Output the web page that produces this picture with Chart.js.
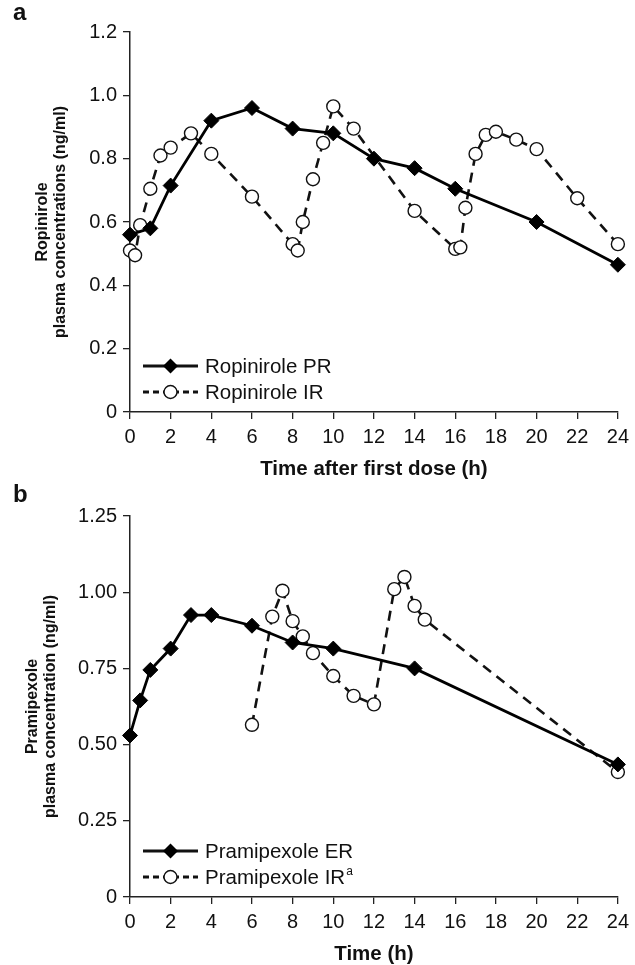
<!DOCTYPE html>
<html>
<head>
<meta charset="utf-8">
<script src="https://cdn.jsdelivr.net/npm/chart.js@4.4.0/dist/chart.umd.min.js"></script>
<style>
  body { margin: 0; background: #fff; width: 635px; height: 965px; position: relative; overflow: hidden;
         font-family: "Liberation Sans", Arial, Helvetica, sans-serif; }
  .panel { position: absolute; left: 0; width: 635px; }
  .tag { position: absolute; left: 13px; font-weight: bold; font-size: 24px; line-height: 24px; color: #111; z-index: 2; }
</style>
</head>
<body>
<div class="panel" style="top:0;height:485px"><canvas id="chartA"></canvas></div>
<div class="panel" style="top:485px;height:480px"><canvas id="chartB"></canvas></div>
<div class="tag" style="top:0px">a</div>
<div class="tag" style="top:482px">b</div>
<script>
// shared x axis (hours)
const hourTicks = [0, 2, 4, 6, 8, 10, 12, 14, 16, 18, 20, 22, 24];

// panel a - ropinirole
const ropPRHours = [0, 1, 2, 4, 6, 8, 10, 12, 14, 16, 20, 24];
const ropPR = [0.56, 0.58, 0.715, 0.92, 0.96, 0.895, 0.88, 0.80, 0.77, 0.705, 0.60, 0.465];
const ropIRHours = [0, 0.25, 0.5, 1, 1.5, 2, 3, 4, 6, 8, 8.25, 8.5, 9, 9.5, 10, 11, 14, 16, 16.25, 16.5, 17, 17.5, 18, 19, 20, 22, 24];
const ropIR = [0.51, 0.495, 0.59, 0.705, 0.81, 0.835, 0.88, 0.815, 0.68, 0.53, 0.51, 0.60, 0.735, 0.85, 0.965, 0.895, 0.635, 0.515, 0.52, 0.645, 0.815, 0.875, 0.885, 0.86, 0.83, 0.675, 0.53];
const ropYTicks = [0, 0.2, 0.4, 0.6, 0.8, 1.0, 1.2];
const ropYLabels = ['0', '0.2', '0.4', '0.6', '0.8', '1.0', '1.2'];

// panel b - pramipexole
const pramERHours = [0, 0.5, 1, 2, 3, 4, 6, 8, 10, 14, 24];
const pramER = [0.53, 0.645, 0.745, 0.815, 0.925, 0.925, 0.89, 0.835, 0.815, 0.75, 0.435];
const pramIRHours = [6, 7, 7.5, 8, 8.5, 9, 10, 11, 12, 13, 13.5, 14, 14.5, 24];
const pramIR = [0.565, 0.92, 1.005, 0.905, 0.855, 0.80, 0.725, 0.66, 0.632, 1.01, 1.05, 0.955, 0.91, 0.41];
const pramYTicks = [0, 0.25, 0.5, 0.75, 1.0, 1.25];
const pramYLabels = ['0', '0.25', '0.50', '0.75', '1.00', '1.25'];

const FONT = '"Liberation Sans", Arial, Helvetica, sans-serif';
const INK = '#111';

function toPoints(xs, ys) {
  return xs.map((x, i) => ({ x: x, y: ys[i] }));
}

// legend with line + marker sample, drawn inside the plot at lower left
const sampleLegend = {
  id: 'sampleLegend',
  afterDraw(chart, args, opts) {
    const ctx = chart.ctx;
    const area = chart.chartArea;
    const x0 = area.left + 13, x1 = area.left + 68, xm = (x0 + x1) / 2;
    opts.items.forEach((item, i) => {
      const y = area.bottom - opts.rows[i];
      ctx.save();
      ctx.strokeStyle = INK;
      ctx.lineWidth = 2.8;
      ctx.setLineDash(item.dash ? [6, 4] : []);
      ctx.beginPath();
      ctx.moveTo(x0, y);
      ctx.lineTo(x1, y);
      ctx.stroke();
      ctx.setLineDash([]);
      ctx.beginPath();
      if (item.marker === 'diamond') {
        const r = 7.5;
        ctx.moveTo(xm - r, y); ctx.lineTo(xm, y - r); ctx.lineTo(xm + r, y); ctx.lineTo(xm, y + r);
        ctx.closePath();
        ctx.fillStyle = '#000';
        ctx.fill();
      } else {
        ctx.arc(xm, y, 6.5, 0, Math.PI * 2);
        ctx.fillStyle = '#fff';
        ctx.fill();
        ctx.lineWidth = 1.4;
        ctx.stroke();
      }
      ctx.fillStyle = INK;
      ctx.font = '20.5px ' + FONT;
      ctx.textBaseline = 'middle';
      ctx.textAlign = 'left';
      ctx.fillText(item.label, x1 + 7, y + 1);
      if (item.sup) {
        const w = ctx.measureText(item.label).width;
        ctx.font = '12px ' + FONT;
        ctx.fillText(item.sup, x1 + 8 + w, y - 5);
      }
      ctx.restore();
    });
  }
};

function concChart(id, s) {
  return new Chart(document.getElementById(id), {
    type: 'scatter',
    data: {
      datasets: [
        {
          label: s.legend[0].label,
          data: toPoints(s.xs[0], s.ys[0]),
          showLine: true,
          borderColor: '#000',
          borderWidth: 2.8,
          pointStyle: 'rectRot',
          pointRadius: 7.5,
          pointBackgroundColor: '#000',
          pointBorderColor: '#000',
          pointBorderWidth: 1,
          clip: false
        },
        {
          label: s.legend[1].label,
          data: toPoints(s.xs[1], s.ys[1]),
          showLine: true,
          borderColor: INK,
          borderWidth: 2.6,
          borderDash: [10, 7],
          pointStyle: 'circle',
          pointRadius: 6.5,
          pointBackgroundColor: '#fff',
          pointBorderColor: INK,
          pointBorderWidth: 1.4,
          clip: false
        }
      ]
    },
    options: {
      responsive: true,
      maintainAspectRatio: false,
      animation: false,
      events: [],
      layout: { padding: { top: s.top, right: 13, left: 0, bottom: 0 } },
      plugins: {
        legend: { display: false },
        tooltip: { enabled: false },
        sampleLegend: { items: s.legend, rows: [46, 20] }
      },
      scales: {
        x: {
          type: 'linear',
          min: 0,
          max: 24,
          afterBuildTicks: sc => { sc.ticks = hourTicks.map(v => ({ value: v })); },
          afterFit: sc => { sc.height = s.xHeight; },
          ticks: { color: INK, font: { family: FONT, size: 20 }, padding: 6, maxRotation: 0, autoSkip: false },
          grid: { drawOnChartArea: false, tickLength: 7, color: '#222', lineWidth: 1.3 },
          border: { color: '#222', width: 1.5 },
          title: {
            display: true,
            text: s.xTitle,
            color: INK,
            font: { family: FONT, size: 20.5, weight: 'bold', lineHeight: 1 },
            padding: { top: 0, bottom: s.xTitlePad }
          }
        },
        y: {
          min: 0,
          max: s.yTicks[s.yTicks.length - 1],
          afterBuildTicks: sc => { sc.ticks = s.yTicks.map(v => ({ value: v })); },
          afterFit: sc => { sc.width = 130; },
          ticks: {
            color: INK,
            font: { family: FONT, size: 20 },
            padding: 6,
            callback: (v, i) => s.yLabels[i]
          },
          grid: { drawOnChartArea: false, tickLength: 7, color: '#222', lineWidth: 1.3 },
          border: { color: '#222', width: 1.5 },
          title: {
            display: true,
            text: s.yTitle,
            color: INK,
            font: { family: FONT, size: 16, weight: 'bold', lineHeight: 1.15 },
            padding: { top: s.yTitlePad, bottom: 0 }
          }
        }
      }
    },
    plugins: [sampleLegend]
  });
}

concChart('chartA', {
  xs: [ropPRHours, ropIRHours],
  ys: [ropPR, ropIR],
  yTicks: ropYTicks,
  yLabels: ropYLabels,
  top: 32,
  xHeight: 73,
  xTitle: 'Time after first dose (h)',
  xTitlePad: 5,
  yTitle: ['Ropinirole', 'plasma concentrations (ng/ml)'],
  yTitlePad: 33,
  legend: [
    { label: 'Ropinirole PR', marker: 'diamond', dash: false },
    { label: 'Ropinirole IR', marker: 'circle', dash: true }
  ]
});

concChart('chartB', {
  xs: [pramERHours, pramIRHours],
  ys: [pramER, pramIR],
  yTicks: pramYTicks,
  yLabels: pramYLabels,
  top: 31,
  xHeight: 68,
  xTitle: 'Time (h)',
  xTitlePad: 0,
  yTitle: ['Pramipexole', 'plasma concentration (ng/ml)'],
  yTitlePad: 23,
  legend: [
    { label: 'Pramipexole ER', marker: 'diamond', dash: false },
    { label: 'Pramipexole IR', sup: 'a', marker: 'circle', dash: true }
  ]
});
</script>
</body>
</html>
